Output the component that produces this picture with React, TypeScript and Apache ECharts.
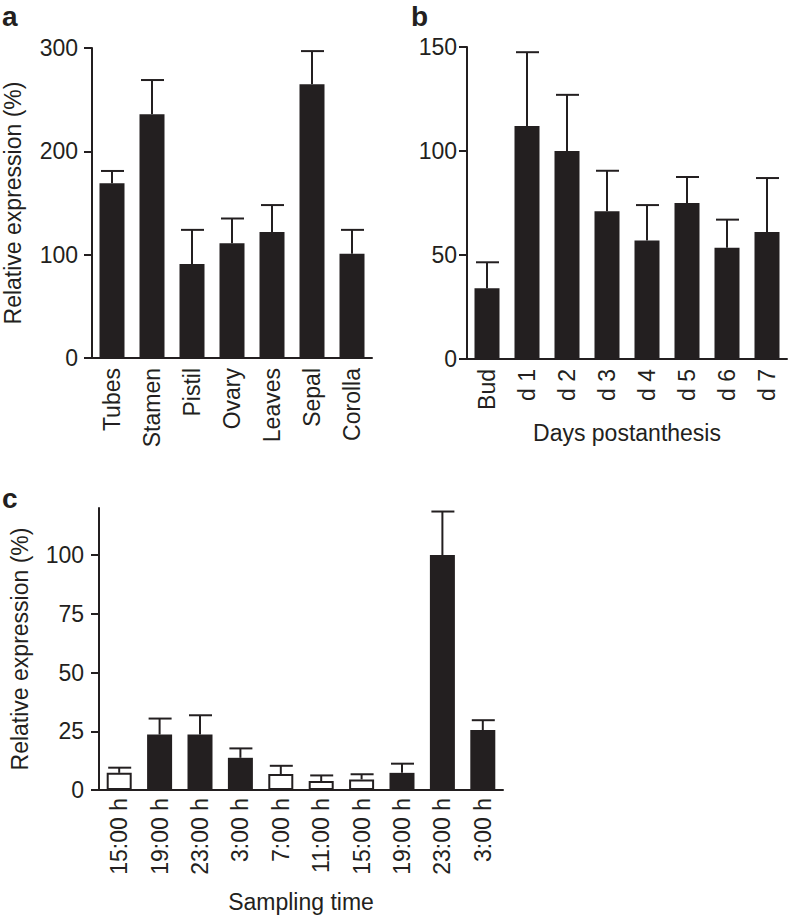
import React, { useEffect, useRef } from "react";
import * as echarts from "echarts";

const INK = "#231f20";
const FONT = "'Liberation Sans', Arial, Helvetica, sans-serif";
const FS = 23;

// Panel a: tissues
const aCategories = ["Tubes", "Stamen", "Pistil", "Ovary", "Leaves", "Sepal", "Corolla"];
const aValues = [169, 236, 91, 111, 122, 265, 101];
const aErrTop = [181, 269, 124, 135, 148, 297, 124];
const aTicks = [0, 100, 200, 300];

// Panel b: days postanthesis
const bCategories = ["Bud", "d 1", "d 2", "d 3", "d 4", "d 5", "d 6", "d 7"];
const bValues = [34, 112, 100, 71, 57, 75, 53.5, 61];
const bErrTop = [46.5, 147.5, 127, 90.5, 74, 87.5, 67, 87];
const bTicks = [0, 50, 100, 150];

// Panel c: sampling time
const cCategories = ["15:00 h", "19:00 h", "23:00 h", "3:00 h", "7:00 h", "11:00 h", "15:00 h", "19:00 h", "23:00 h", "3:00 h"];
const cValues = [7.3, 23.6, 23.6, 13.7, 6.8, 3.8, 4.5, 7.3, 100, 25.5];
const cErrTop = [9.5, 30.4, 31.8, 17.7, 10.3, 6.2, 6.7, 11.2, 118.5, 29.7];
const cLightPhase = [true, false, false, false, true, true, true, false, false, false];
const cTicks = [0, 25, 50, 75, 100];

const yLabel = "Relative expression (%)";

function errorSeries(xAxisIndex: number, yAxisIndex: number, values: number[], tops: number[]) {
  return {
    type: "custom",
    xAxisIndex,
    yAxisIndex,
    z: 1,
    silent: true,
    data: values.map((v, i) => [i, v, tops[i]]),
    encode: { x: 0, y: [1, 2] },
    renderItem: (params: any, api: any) => {
      const i = api.value(0);
      const p1 = api.coord([i, api.value(1)]);
      const p2 = api.coord([i, api.value(2)]);
      const hw = 11;
      const style = { stroke: INK, lineWidth: 2, fill: null };
      return {
        type: "group",
        children: [
          { type: "line", shape: { x1: p1[0], y1: p1[1], x2: p2[0], y2: p2[1] }, style },
          { type: "line", shape: { x1: p2[0] - hw, y1: p2[1], x2: p2[0] + hw + 1, y2: p2[1] }, style },
        ],
      };
    },
  };
}

function catAxis(gridIndex: number, data: string[], name: string, nameGap: number, margin: number) {
  return {
    type: "category",
    gridIndex,
    data,
    boundaryGap: true,
    name,
    nameLocation: "middle",
    nameGap,
    nameTextStyle: { color: INK, fontSize: FS, fontFamily: FONT },
    axisLine: { show: true, lineStyle: { color: INK, width: 2 } },
    axisTick: { show: false },
    axisLabel: { rotate: 90, color: INK, fontSize: FS, fontFamily: FONT, margin, interval: 0 },
    splitLine: { show: false },
  };
}

function valAxis(gridIndex: number, max: number, ticks: number[], name: string, margin: number) {
  return {
    type: "value",
    gridIndex,
    min: 0,
    max,
    name,
    nameLocation: "middle",
    nameGap: 68,
    nameTextStyle: { color: INK, fontSize: FS, fontFamily: FONT },
    axisLine: { show: true, lineStyle: { color: INK, width: 2 } },
    axisTick: { show: true, length: 8, inside: false, lineStyle: { color: INK, width: 2 }, customValues: ticks },
    axisLabel: { color: INK, fontSize: FS, fontFamily: FONT, margin, customValues: ticks },
    splitLine: { show: false },
  };
}

export default function App() {
  const ref = useRef<HTMLDivElement>(null);
  useEffect(() => {
    if (!ref.current) return;
    const chart = echarts.init(ref.current, undefined, { renderer: "svg" });
    const letter = (t: string, x: number, y: number) => ({
      type: "text",
      x,
      y,
      style: { text: t, fill: INK, font: `bold 28px ${FONT}`, textVerticalAlign: "top" },
    });
    chart.setOption({
      animation: false,
      backgroundColor: "#ffffff",
      textStyle: { fontFamily: FONT },
      graphic: [letter("a", 2, 2), letter("b", 411, 2), letter("c", 2, 484)],
      grid: [
        { left: 92, top: 48, width: 280, height: 310 },
        { left: 467, top: 47, width: 320, height: 312 },
        { left: 92, top: 508, width: 411, height: 282 },
      ],
      xAxis: [
        catAxis(0, aCategories, "", 0, 10),
        catAxis(1, bCategories, "Days postanthesis", 62, 10),
        catAxis(2, cCategories, "Sampling time", 100, 8),
      ],
      yAxis: [
        valAxis(0, 300, aTicks, yLabel, 14),
        valAxis(1, 150, bTicks, "", 10),
        valAxis(2, 120, cTicks, yLabel, 15),
      ],
      series: [
        {
          type: "bar",
          xAxisIndex: 0,
          yAxisIndex: 0,
          barWidth: 25,
          z: 2,
          itemStyle: { color: INK },
          data: aValues,
        },
        errorSeries(0, 0, aValues, aErrTop),
        {
          type: "bar",
          xAxisIndex: 1,
          yAxisIndex: 1,
          barWidth: 25,
          z: 2,
          itemStyle: { color: INK },
          data: bValues,
        },
        errorSeries(1, 1, bValues, bErrTop),
        {
          type: "bar",
          xAxisIndex: 2,
          yAxisIndex: 2,
          barWidth: 25,
          z: 2,
          data: cValues.map((v, i) => ({
            value: v,
            itemStyle: cLightPhase[i]
              ? { color: "#ffffff", borderColor: INK, borderWidth: 2 }
              : { color: INK },
          })),
        },
        errorSeries(2, 2, cValues, cErrTop),
      ],
    });
    return () => chart.dispose();
  }, []);
  return (
    <div
      ref={ref}
      style={{ position: "fixed", left: 0, top: 0, width: 788, height: 917, background: "#fff" }}
    />
  );
}
